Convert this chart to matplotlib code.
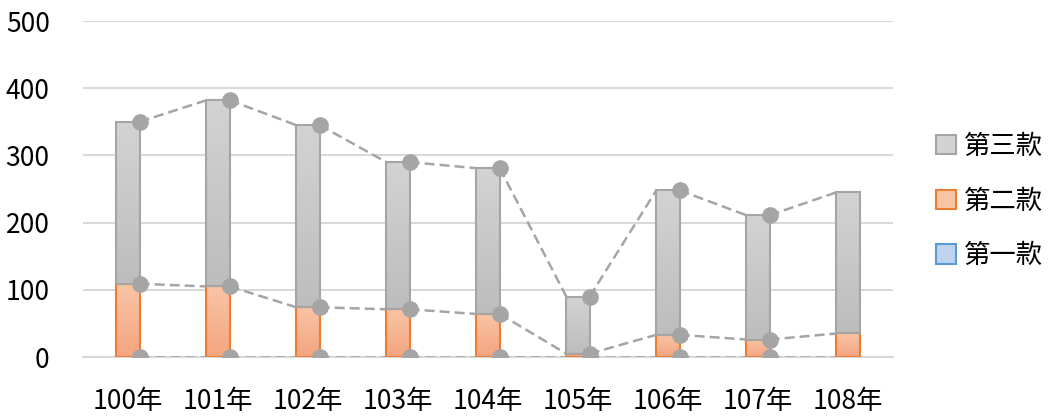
import numpy as np
import matplotlib
matplotlib.use('Agg')
from matplotlib import pyplot as plt
from matplotlib.colors import LinearSegmentedColormap
from matplotlib.patches import Patch

plt.rcParams['font.family'] = ['Noto Sans CJK TC', 'DejaVu Sans']

years = ['100年', '101年', '102年', '103年', '104年', '105年', '106年', '107年', '108年']
kuan1 = [0, 0, 0, 0, 0, 0, 0, 0, 0]
kuan2 = [109, 105, 74, 71, 64, 5, 33, 26, 35]
kuan3 = [241, 277, 271, 219, 217, 85, 215, 185, 210]

# 顏色：填色上淺下深，邊框較深
styles = {
    '第一款': dict(top='#bdd3ee', bottom='#9dbde6', edge='#5b9bd5'),
    '第二款': dict(top='#f8c4a6', bottom='#f4a57f', edge='#ed7d31'),
    '第三款': dict(top='#d3d3d3', bottom='#bdbdbd', edge='#a5a5a5'),
}
line_color = '#a5a5a5'

fig = plt.figure(figsize=(10.6, 4.16), dpi=100)
ax = fig.add_axes([83 / 1060, 59 / 416, 810 / 1060, 336 / 416])

x = np.arange(len(years))
w = 0.26
series = [('第一款', kuan1), ('第二款', kuan2), ('第三款', kuan3)]

bottom = np.zeros(len(years))
tops = []
for name, vals in series:
    st = styles[name]
    vals = np.array(vals, dtype=float)
    bars = ax.bar(x, vals, w, bottom=bottom, facecolor='none',
                  edgecolor=st['edge'], linewidth=1.5, zorder=3)
    cmap = LinearSegmentedColormap.from_list(name, [st['bottom'], st['top']])
    grad = np.linspace(0, 1, 64).reshape(-1, 1)
    for b in bars:
        if b.get_height() <= 0:
            continue
        x0, y0 = b.get_x(), b.get_y()
        im = ax.imshow(grad, cmap=cmap, origin='lower', aspect='auto',
                       extent=(x0, x0 + b.get_width(), y0, y0 + b.get_height()),
                       zorder=2)
        im.set_clip_path(b)
    bottom = bottom + vals
    tops.append(bottom.copy())

# 數列線：上一根柱子右上角 -> 下一根柱子左上角
for top in tops:
    for i in range(len(years) - 1):
        ax.plot([x[i] + w / 2, x[i + 1] - w / 2], [top[i], top[i + 1]],
                ls=(0, (4, 2)), color=line_color, lw=1.8, zorder=4)
    ax.plot(x[:-1] + w / 2, top[:-1], 'o', color=line_color,
            markersize=11, zorder=5)

ax.set_xlim(-0.5, len(years) - 0.5)
ax.set_ylim(0, 500)
ax.set_yticks(range(0, 501, 100))
ax.set_xticks(x)
ax.set_xticklabels(years)
ax.tick_params(axis='both', length=0, labelsize=19)
ax.tick_params(axis='y', pad=24)
ax.tick_params(axis='x', pad=22)
ax.grid(axis='y', color='#d9d9d9', lw=1.5, zorder=0)
ax.set_axisbelow(True)
for s in ['top', 'right', 'left']:
    ax.spines[s].set_visible(False)
ax.spines['bottom'].set_color('#d9d9d9')
ax.spines['bottom'].set_linewidth(1.5)

handles = [Patch(facecolor=styles[n]['top'], edgecolor=styles[n]['edge'], lw=1.5, label=n)
           for n in ['第三款', '第二款', '第一款']]
fig.legend(handles=handles, loc='center left', bbox_to_anchor=(936 / 1060, 215 / 416),
           frameon=False, fontsize=19, handlelength=0.75, handleheight=0.75,
           handletextpad=0.3, labelspacing=1.05, borderpad=0, borderaxespad=0)

fig.savefig('out.png', dpi=100)
